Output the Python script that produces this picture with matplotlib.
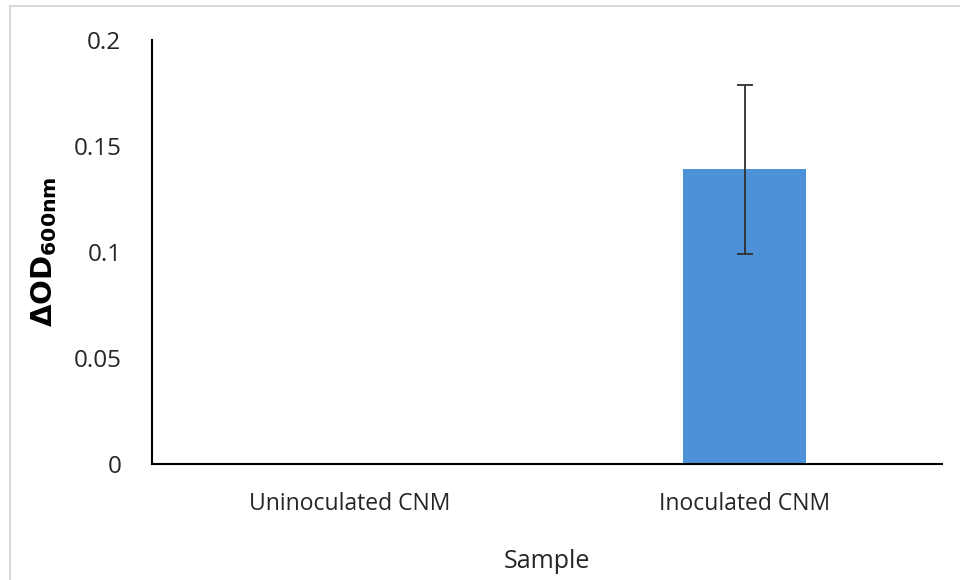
import matplotlib.pyplot as plt
from matplotlib.patches import Rectangle

samples = ['Uninoculated CNM', 'Inoculated CNM']
delta_od = [0.0, 0.139]
od_err = [0.0, 0.04]
y_ticks = [0, 0.05, 0.1, 0.15, 0.2]
y_tick_labels = ['0', '0.05', '0.1', '0.15', '0.2']

plt.rcParams['font.family'] = ['Open Sans', 'DejaVu Sans']

fig = plt.figure(figsize=(9.6, 5.8), dpi=100)
# light frame around the chart area
fig.patches.append(Rectangle((10 / 960, -0.05), 1.2, 1 - 6 / 580 + 0.05,
                             transform=fig.transFigure, fill=False,
                             edgecolor='#d9d9d9', linewidth=1.5))

ax = fig.add_axes([152 / 960, 1 - 464 / 580, (942 - 152) / 960, (464 - 40) / 580])

ax.bar(range(len(samples)), delta_od, width=0.31, color='#4d91d8')
ax.errorbar(range(len(samples)), delta_od, yerr=od_err, fmt='none',
            ecolor='#2f2f2f', elinewidth=1.3, capsize=6, capthick=1.3)

ax.set_xlim(-0.5, 1.5)
ax.set_ylim(0, 0.2)
ax.set_yticks(y_ticks)
ax.set_yticklabels(y_tick_labels)
ax.set_xticks(range(len(samples)))
ax.set_xticklabels(samples)
ax.tick_params(axis='both', length=0, colors='#262626')
ax.tick_params(axis='y', labelsize=17.5, pad=22)
ax.tick_params(axis='x', labelsize=16.5, pad=20)

for side in ['top', 'right']:
    ax.spines[side].set_visible(False)
for side in ['left', 'bottom']:
    ax.spines[side].set_color('black')
    ax.spines[side].set_linewidth(1.5)

ax.set_xlabel('Sample', fontsize=18, color='#262626', labelpad=24)
ax.set_ylabel(r'$\mathbf{\Delta OD_{600nm}}$', fontsize=21, color='black', labelpad=10)

fig.savefig('out.png', dpi=100, facecolor='white')
